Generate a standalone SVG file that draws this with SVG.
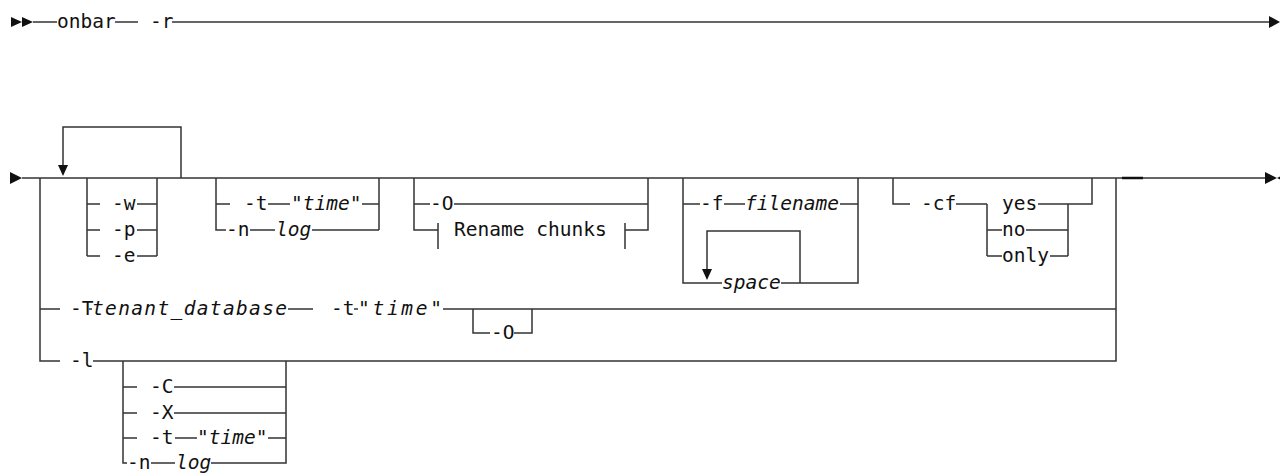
<svg xmlns="http://www.w3.org/2000/svg" width="1280" height="473" viewBox="0 0 1280 473">
<style>
.ln{stroke:#333;stroke-width:1.5;fill:none}
.ah{fill:#111;stroke:none}
.t{font-family:"DejaVu Sans Mono","Liberation Mono",monospace;font-size:19.5px;fill:#111}
.i{font-style:italic}
</style>
<rect width="1280" height="473" fill="#fff"/>
<g id="connectors">
  <polygon class="ah" points="11,17 22,22 11,27"/>
  <polygon class="ah" points="22,17 33,22 22,27"/>
  <path class="ln" d="M33,22H57M115,22H138M172,22H1269"/>
  <polygon class="ah" points="1269,16 1280,22 1269,28"/>
  <polygon class="ah" points="10,172 22,178 10,184"/>
  <path class="ln" d="M22,178H1265"/>
  <path stroke="#111" stroke-width="2.5" d="M1122,178H1143"/>
  <polygon class="ah" points="1265,172 1277,178 1265,184"/>
  <polygon class="ah" points="1277,178 1289,172 1289,184"/>
  <path class="ln" d="M40,178V361H60M1116,178V361H93M40,309H60"/>
  <path class="ln" d="M89,309H92M288,309H313M354,309H358M443,309H1116"/>
</g>
<g id="start">
  <text class="t" x="57" y="28">onbar</text>
  <text class="t" x="150" y="28">-r</text>
</g>
<g id="repeat-loop">
  <path class="ln" d="M181,178V127H63V166"/>
  <polygon class="ah" points="58,165 68,165 63,176"/>
</g>
<g id="choice-wpe">
  <path class="ln" d="M87,178V256M157,178V256M87,204H100M137,204H157M87,230H100M137,230H157M87,256H100M137,256H157"/>
  <text class="t" x="112" y="210">-w</text>
  <text class="t" x="112" y="236">-p</text>
  <text class="t" x="112" y="262">-e</text>
</g>
<g id="choice-tn">
  <path class="ln" d="M216,178V230H226M379,178V230M216,204H230M268,204H290M362,204H379M250,230H275M312,230H379"/>
  <text class="t" x="244" y="210">-t</text>
  <text class="t" x="291" y="210">"<tspan class="i">time</tspan>"</text>
  <text class="t" x="226" y="236">-n</text>
  <text class="t i" x="276" y="236">log</text>
</g>
<g id="choice-O">
  <path class="ln" d="M414,178V230H438M648,178V230H625M414,204H430M454,204H648M438,223V249M625,223V249"/>
  <text class="t" x="430" y="210">-O</text>
  <text class="t" x="454" y="236">Rename chunks</text>
</g>
<g id="choice-f">
  <path class="ln" d="M683,178V283H722M858,178V283H781M683,204H700M724,204H745M840,204H858"/>
  <text class="t" x="700" y="210">-f</text>
  <text class="t i" x="745" y="210">filename</text>
  <text class="t i" x="722" y="289">space</text>
  <path class="ln" d="M800,283V231H707V270"/>
  <polygon class="ah" points="702,269 712,269 707,280"/>
</g>
<g id="choice-cf">
  <path class="ln" d="M893,178V204H910M956,204H987M987,204V256M1068,204V256M987,230H1002M987,256H1002M1038,204H1092V178M1026,230H1068M1050,256H1068"/>
  <text class="t" x="921" y="210">-cf</text>
  <text class="t" x="1002" y="210">yes</text>
  <text class="t" x="1002" y="236">no</text>
  <text class="t" x="1002" y="262">only</text>
</g>
<g id="branch-T">
  <text class="t" x="70" y="315">-T</text>
  <text class="t i" x="92" y="315" textLength="195">tenant_database</text>
  <text class="t" x="331" y="315">-t</text>
  <text class="t" x="358" y="315" textLength="84">"<tspan class="i">time</tspan>"</text>
  <path class="ln" d="M473,309V333H490M532,309V333H514"/>
  <text class="t" x="491" y="339">-O</text>
</g>
<g id="branch-l">
  <text class="t" x="70" y="367">-l</text>
  <path class="ln" d="M123,361V463H127M286,361V463H211M123,387H137M174,387H286M123,413H137M174,413H286M123,438H137M175,438H197M268,438H286M151,463H175"/>
  <text class="t" x="150" y="393">-C</text>
  <text class="t" x="150" y="419">-X</text>
  <text class="t" x="150" y="444">-t</text>
  <text class="t" x="197" y="444">"<tspan class="i">time</tspan>"</text>
  <text class="t" x="127" y="469">-n</text>
  <text class="t i" x="176" y="469">log</text>
</g>
</svg>
